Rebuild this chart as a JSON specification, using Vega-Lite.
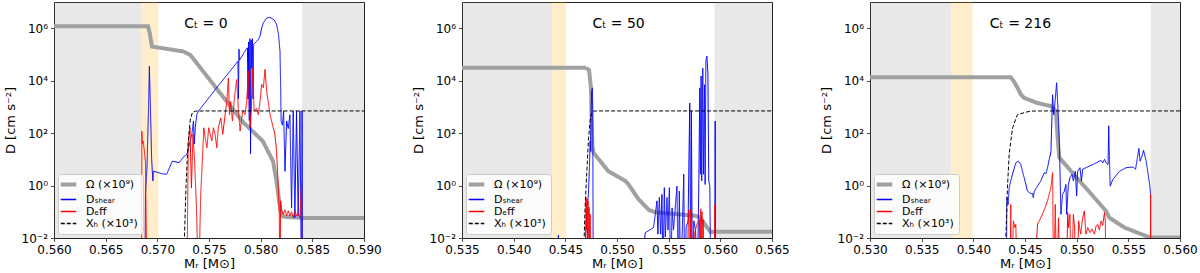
{
"$schema": "https://vega.github.io/schema/vega-lite/v6.json",
"padding": {"left": 3, "top": 1, "right": 0, "bottom": 0},
"spacing": 98,
"bounds": "flush",
"config": {
  "font": "DejaVu Sans",
  "view": {"stroke": "#222222", "strokeWidth": 1},
  "axis": {"grid": false, "domain": false, "tickColor": "#222222", "tickSize": 3.5, "tickWidth": 0.8, "labelFontSize": 12, "labelColor": "black", "titleFontSize": 13, "titleFontWeight": "normal", "titleColor": "black", "labelPadding": 3, "labelFlush": false, "labelOverlap": false},
  "legend": {"orient": "bottom-left", "offset": 4, "fillColor": "rgba(255,255,255,0.8)", "strokeColor": "#cccccc", "cornerRadius": 3, "padding": 5, "symbolType": "stroke", "symbolSize": 240, "symbolStrokeWidth": 1.5, "labelFontSize": 11, "rowPadding": 0, "labelOffset": 12, "labelColor": "black"},
  "line": {"clip": true},
  "text": {"font": "DejaVu Sans"}
},
"datasets": {
"p1": [
{"M":0.5600,"D":1.2e6,"s":"omega"},{"M":0.5691,"D":1.2e6,"s":"omega"},{"M":0.56925,"D":7e5,"s":"omega"},{"M":0.56948,"D":2.0e5,"s":"omega"},{"M":0.5725,"D":1.3e5,"s":"omega"},{"M":0.5732,"D":9.5e4,"s":"omega"},{"M":0.5757,"D":5.2e3,"s":"omega"},{"M":0.5783,"D":260,"s":"omega"},{"M":0.5802,"D":50,"s":"omega"},{"M":0.5812,"D":8.5,"s":"omega"},{"M":0.58153,"D":1.5,"s":"omega"},{"M":0.58179,"D":0.26,"s":"omega"},{"M":0.58195,"D":0.1,"s":"omega"},{"M":0.5822,"D":0.065,"s":"omega"},{"M":0.5840,"D":0.058,"s":"omega"},{"M":0.5900,"D":0.058,"s":"omega"},
{"M":0.56880,"D":1e-4,"s":"shear"},{"M":0.56885,"D":0.5,"s":"shear"},{"M":0.5690,"D":5,"s":"shear"},{"M":0.56915,"D":1000,"s":"shear"},{"M":0.56923,"D":3.5e4,"s":"shear"},{"M":0.5693,"D":3000,"s":"shear"},{"M":0.56945,"D":10,"s":"shear"},{"M":0.56957,"D":1.5,"s":"shear"},{"M":0.56962,"D":3.5,"s":"shear"},{"M":0.5700,"D":3.2,"s":"shear"},{"M":0.5705,"D":2.8,"s":"shear"},{"M":0.5709,"D":2.7,"s":"shear"},{"M":0.5712,"D":5,"s":"shear"},{"M":0.57145,"D":8.5,"s":"shear"},{"M":0.5718,"D":8,"s":"shear"},{"M":0.5721,"D":7.4,"s":"shear"},{"M":0.5725,"D":12,"s":"shear"},{"M":0.57286,"D":15.5,"s":"shear"},{"M":0.57302,"D":27,"s":"shear"},{"M":0.57318,"D":50,"s":"shear"},{"M":0.57334,"D":90,"s":"shear"},{"M":0.5735,"D":290,"s":"shear"},{"M":0.57357,"D":38,"s":"shear"},{"M":0.57367,"D":160,"s":"shear"},{"M":0.57382,"D":510,"s":"shear"},{"M":0.57399,"D":700,"s":"shear"},{"M":0.5760,"D":7200,"s":"shear"},{"M":0.5778,"D":5.5e4,"s":"shear"},{"M":0.57785,"D":2000,"s":"shear"},{"M":0.5779,"D":1.6e5,"s":"shear"},{"M":0.57795,"D":6e4,"s":"shear"},{"M":0.5786,"D":1.6e5,"s":"shear"},{"M":0.57872,"D":1.8e5,"s":"shear"},{"M":0.57878,"D":2000,"s":"shear"},{"M":0.57884,"D":3e5,"s":"shear"},{"M":0.5789,"D":300,"s":"shear"},{"M":0.57896,"D":4e5,"s":"shear"},{"M":0.57902,"D":16,"s":"shear"},{"M":0.57908,"D":3.5e5,"s":"shear"},{"M":0.57914,"D":3e4,"s":"shear"},{"M":0.5792,"D":4e5,"s":"shear"},{"M":0.57926,"D":2000,"s":"shear"},{"M":0.57932,"D":2.4e5,"s":"shear"},{"M":0.57977,"D":3.7e5,"s":"shear"},{"M":0.57994,"D":5e5,"s":"shear"},{"M":0.58009,"D":1e6,"s":"shear"},{"M":0.58026,"D":1.6e6,"s":"shear"},{"M":0.58058,"D":2.45e6,"s":"shear"},{"M":0.5809,"D":2.6e6,"s":"shear"},{"M":0.58129,"D":2.1e6,"s":"shear"},{"M":0.58154,"D":1.4e6,"s":"shear"},{"M":0.58173,"D":5.8e5,"s":"shear"},{"M":0.58187,"D":1.3e5,"s":"shear"},{"M":0.58193,"D":7000,"s":"shear"},{"M":0.58198,"D":290,"s":"shear"},{"M":0.5821,"D":200,"s":"shear"},{"M":0.58222,"D":700,"s":"shear"},{"M":0.58235,"D":3.5,"s":"shear"},{"M":0.58251,"D":290,"s":"shear"},{"M":0.58267,"D":150,"s":"shear"},{"M":0.58283,"D":500,"s":"shear"},{"M":0.58299,"D":0.14,"s":"shear"},{"M":0.58315,"D":700,"s":"shear"},{"M":0.58331,"D":0.06,"s":"shear"},{"M":0.58347,"D":700,"s":"shear"},{"M":0.58363,"D":0.07,"s":"shear"},{"M":0.5838,"D":700,"s":"shear"},{"M":0.58395,"D":1e-4,"s":"shear"},{"M":0.58401,"D":700,"s":"shear"},{"M":0.58405,"D":1e-4,"s":"shear"},
{"M":0.56848,"D":1e-4,"s":"eff"},{"M":0.5685,"D":120,"s":"eff"},{"M":0.56855,"D":40,"s":"eff"},{"M":0.56862,"D":50,"s":"eff"},{"M":0.5687,"D":30,"s":"eff"},{"M":0.56885,"D":8,"s":"eff"},{"M":0.5690,"D":1e-4,"s":"eff"},{"M":0.57285,"D":1e-4,"s":"eff"},{"M":0.573,"D":50,"s":"eff"},{"M":0.57316,"D":160,"s":"eff"},{"M":0.5733,"D":0.8,"s":"eff"},{"M":0.57345,"D":90,"s":"eff"},{"M":0.5736,"D":10,"s":"eff"},{"M":0.5738,"D":0.1,"s":"eff"},{"M":0.57399,"D":1e-4,"s":"eff"},{"M":0.5742,"D":0.5,"s":"eff"},{"M":0.5744,"D":20,"s":"eff"},{"M":0.5745,"D":160,"s":"eff"},{"M":0.57463,"D":66,"s":"eff"},{"M":0.5748,"D":28,"s":"eff"},{"M":0.57497,"D":160,"s":"eff"},{"M":0.57527,"D":50,"s":"eff"},{"M":0.57543,"D":160,"s":"eff"},{"M":0.57559,"D":90,"s":"eff"},{"M":0.57575,"D":28,"s":"eff"},{"M":0.5759,"D":160,"s":"eff"},{"M":0.57614,"D":380,"s":"eff"},{"M":0.57633,"D":90,"s":"eff"},{"M":0.57656,"D":510,"s":"eff"},{"M":0.57672,"D":1600,"s":"eff"},{"M":0.57688,"D":1.26e4,"s":"eff"},{"M":0.57698,"D":510,"s":"eff"},{"M":0.5771,"D":1600,"s":"eff"},{"M":0.57727,"D":290,"s":"eff"},{"M":0.57746,"D":2200,"s":"eff"},{"M":0.57768,"D":1.1e4,"s":"eff"},{"M":0.57785,"D":700,"s":"eff"},{"M":0.57801,"D":120,"s":"eff"},{"M":0.57826,"D":700,"s":"eff"},{"M":0.57849,"D":510,"s":"eff"},{"M":0.57865,"D":1600,"s":"eff"},{"M":0.57881,"D":2.3e4,"s":"eff"},{"M":0.57891,"D":700,"s":"eff"},{"M":0.57897,"D":160,"s":"eff"},{"M":0.5791,"D":900,"s":"eff"},{"M":0.57923,"D":3.1e4,"s":"eff"},{"M":0.57936,"D":700,"s":"eff"},{"M":0.57961,"D":900,"s":"eff"},{"M":0.57977,"D":510,"s":"eff"},{"M":0.57994,"D":1600,"s":"eff"},{"M":0.58009,"D":7200,"s":"eff"},{"M":0.58026,"D":5400,"s":"eff"},{"M":0.58042,"D":2.7e4,"s":"eff"},{"M":0.58058,"D":4000,"s":"eff"},{"M":0.5809,"D":520,"s":"eff"},{"M":0.58122,"D":160,"s":"eff"},{"M":0.58138,"D":90,"s":"eff"},{"M":0.58154,"D":20,"s":"eff"},{"M":0.58171,"D":0.83,"s":"eff"},{"M":0.5818,"D":0.083,"s":"eff"},{"M":0.58187,"D":1e-4,"s":"eff"},{"M":0.58193,"D":0.26,"s":"eff"},{"M":0.58202,"D":0.11,"s":"eff"},{"M":0.58219,"D":0.08,"s":"eff"},{"M":0.58235,"D":0.12,"s":"eff"},{"M":0.58251,"D":0.07,"s":"eff"},{"M":0.58267,"D":0.11,"s":"eff"},{"M":0.58283,"D":0.07,"s":"eff"},{"M":0.58299,"D":0.1,"s":"eff"},{"M":0.58315,"D":0.06,"s":"eff"},{"M":0.58331,"D":0.11,"s":"eff"},{"M":0.58347,"D":0.07,"s":"eff"},{"M":0.58363,"D":0.09,"s":"eff"},{"M":0.5838,"D":0.06,"s":"eff"},{"M":0.58395,"D":1.26,"s":"eff"},{"M":0.58398,"D":1e-4,"s":"eff"},
{"M":0.5725,"D":1e-4,"s":"xh"},{"M":0.57262,"D":0.01,"s":"xh"},{"M":0.57278,"D":1,"s":"xh"},{"M":0.57293,"D":20,"s":"xh"},{"M":0.57308,"D":120,"s":"xh"},{"M":0.5732,"D":350,"s":"xh"},{"M":0.5734,"D":620,"s":"xh"},{"M":0.5737,"D":690,"s":"xh"},{"M":0.5745,"D":700,"s":"xh"},{"M":0.59,"D":700,"s":"xh"}
],
"p2": [
{"M":0.535,"D":3.1e4,"s":"omega"},{"M":0.547,"D":3.1e4,"s":"omega"},{"M":0.5473,"D":2.5e4,"s":"omega"},{"M":0.54748,"D":5000,"s":"omega"},{"M":0.54756,"D":200,"s":"omega"},{"M":0.54762,"D":30,"s":"omega"},{"M":0.54772,"D":18,"s":"omega"},{"M":0.54917,"D":3.5,"s":"omega"},{"M":0.5508,"D":1.5,"s":"omega"},{"M":0.55112,"D":1.1,"s":"omega"},{"M":0.55209,"D":0.3,"s":"omega"},{"M":0.55306,"D":0.12,"s":"omega"},{"M":0.55371,"D":0.095,"s":"omega"},{"M":0.55597,"D":0.08,"s":"omega"},{"M":0.5576,"D":0.07,"s":"omega"},{"M":0.55808,"D":0.059,"s":"omega"},{"M":0.55872,"D":0.025,"s":"omega"},{"M":0.55905,"D":0.017,"s":"omega"},{"M":0.5595,"D":0.0175,"s":"omega"},{"M":0.565,"D":0.0175,"s":"omega"},
{"M":0.5443,"D":1e-4,"s":"shear"},{"M":0.54433,"D":0.013,"s":"shear"},{"M":0.54436,"D":1e-4,"s":"shear"},{"M":0.54685,"D":1e-4,"s":"shear"},{"M":0.54691,"D":0.005,"s":"shear"},{"M":0.54707,"D":0.08,"s":"shear"},{"M":0.54723,"D":0.46,"s":"shear"},{"M":0.54733,"D":4.8,"s":"shear"},{"M":0.5474,"D":50,"s":"shear"},{"M":0.54745,"D":20,"s":"shear"},{"M":0.5475,"D":900,"s":"shear"},{"M":0.54755,"D":4000,"s":"shear"},{"M":0.54762,"D":5300,"s":"shear"},{"M":0.54766,"D":100,"s":"shear"},{"M":0.5477,"D":1e-4,"s":"shear"},{"M":0.55209,"D":1e-4,"s":"shear"},{"M":0.55274,"D":0.016,"s":"shear"},{"M":0.55354,"D":0.025,"s":"shear"},{"M":0.55387,"D":0.26,"s":"shear"},{"M":0.55396,"D":0.014,"s":"shear"},{"M":0.5541,"D":0.35,"s":"shear"},{"M":0.55422,"D":0.014,"s":"shear"},{"M":0.55435,"D":0.46,"s":"shear"},{"M":0.55445,"D":1e-4,"s":"shear"},{"M":0.55458,"D":0.83,"s":"shear"},{"M":0.55468,"D":0.011,"s":"shear"},{"M":0.55484,"D":0.35,"s":"shear"},{"M":0.55494,"D":0.02,"s":"shear"},{"M":0.55507,"D":0.83,"s":"shear"},{"M":0.5552,"D":1e-4,"s":"shear"},{"M":0.55533,"D":0.14,"s":"shear"},{"M":0.55547,"D":0.02,"s":"shear"},{"M":0.5558,"D":0.95,"s":"shear"},{"M":0.55594,"D":1e-4,"s":"shear"},{"M":0.55603,"D":0.62,"s":"shear"},{"M":0.55617,"D":1e-4,"s":"shear"},{"M":0.55646,"D":2.7,"s":"shear"},{"M":0.55655,"D":1e-4,"s":"shear"},{"M":0.55669,"D":0.025,"s":"shear"},{"M":0.55688,"D":0.045,"s":"shear"},{"M":0.55704,"D":1400,"s":"shear"},{"M":0.55714,"D":1e-4,"s":"shear"},{"M":0.5572,"D":700,"s":"shear"},{"M":0.5573,"D":1e-4,"s":"shear"},{"M":0.55743,"D":0.045,"s":"shear"},{"M":0.5576,"D":0.02,"s":"shear"},{"M":0.55776,"D":1e-4,"s":"shear"},{"M":0.55791,"D":0.62,"s":"shear"},{"M":0.55801,"D":5300,"s":"shear"},{"M":0.55807,"D":2.7,"s":"shear"},{"M":0.55814,"D":1.5e4,"s":"shear"},{"M":0.5582,"D":1.5,"s":"shear"},{"M":0.5583,"D":3e4,"s":"shear"},{"M":0.55837,"D":2.7,"s":"shear"},{"M":0.55847,"D":7000,"s":"shear"},{"M":0.55853,"D":1.1,"s":"shear"},{"M":0.5586,"D":5.7e4,"s":"shear"},{"M":0.5587,"D":8.6e4,"s":"shear"},{"M":0.5588,"D":1.7e4,"s":"shear"},{"M":0.55888,"D":1.5,"s":"shear"},{"M":0.55898,"D":1,"s":"shear"},{"M":0.55908,"D":1e-4,"s":"shear"},{"M":0.55947,"D":1e-4,"s":"shear"},{"M":0.5595,"D":290,"s":"shear"},{"M":0.55953,"D":1e-4,"s":"shear"},
{"M":0.54695,"D":1e-4,"s":"eff"},{"M":0.547,"D":0.35,"s":"eff"},{"M":0.54705,"D":0.02,"s":"eff"},{"M":0.5471,"D":0.3,"s":"eff"},{"M":0.54715,"D":0.01,"s":"eff"},{"M":0.5472,"D":0.25,"s":"eff"},{"M":0.54725,"D":1e-4,"s":"eff"},{"M":0.5473,"D":0.15,"s":"eff"},{"M":0.54735,"D":1e-4,"s":"eff"},{"M":0.5474,"D":0.08,"s":"eff"},{"M":0.54745,"D":1e-4,"s":"eff"},{"M":0.5568,"D":1e-4,"s":"eff"},{"M":0.55688,"D":0.025,"s":"eff"},{"M":0.55697,"D":0.12,"s":"eff"},{"M":0.55704,"D":1e-4,"s":"eff"},{"M":0.55714,"D":0.12,"s":"eff"},{"M":0.5572,"D":1e-4,"s":"eff"},{"M":0.55745,"D":1e-4,"s":"eff"},{"M":0.55752,"D":0.016,"s":"eff"},{"M":0.55776,"D":0.035,"s":"eff"},{"M":0.55798,"D":0.05,"s":"eff"},{"M":0.55804,"D":1e-4,"s":"eff"},{"M":0.55811,"D":0.13,"s":"eff"},{"M":0.55816,"D":1e-4,"s":"eff"},{"M":0.55822,"D":0.1,"s":"eff"},{"M":0.55828,"D":1e-4,"s":"eff"},{"M":0.55834,"D":0.05,"s":"eff"},{"M":0.5584,"D":1e-4,"s":"eff"},{"M":0.55944,"D":1e-4,"s":"eff"},{"M":0.55947,"D":0.19,"s":"eff"},{"M":0.5595,"D":1e-4,"s":"eff"},
{"M":0.54675,"D":1e-4,"s":"xh"},{"M":0.54682,"D":0.01,"s":"xh"},{"M":0.54691,"D":0.14,"s":"xh"},{"M":0.54707,"D":2.8,"s":"xh"},{"M":0.54723,"D":50,"s":"xh"},{"M":0.5474,"D":300,"s":"xh"},{"M":0.5475,"D":520,"s":"xh"},{"M":0.54772,"D":690,"s":"xh"},{"M":0.548,"D":700,"s":"xh"},{"M":0.565,"D":700,"s":"xh"}
],
"p3": [
{"M":0.53,"D":1.35e4,"s":"omega"},{"M":0.54362,"D":1.35e4,"s":"omega"},{"M":0.54395,"D":9000,"s":"omega"},{"M":0.54427,"D":5400,"s":"omega"},{"M":0.5446,"D":3000,"s":"omega"},{"M":0.54492,"D":2200,"s":"omega"},{"M":0.54621,"D":1400,"s":"omega"},{"M":0.5475,"D":1070,"s":"omega"},{"M":0.54799,"D":700,"s":"omega"},{"M":0.54816,"D":66,"s":"omega"},{"M":0.54832,"D":11.5,"s":"omega"},{"M":0.55087,"D":0.83,"s":"omega"},{"M":0.55284,"D":0.107,"s":"omega"},{"M":0.55317,"D":0.059,"s":"omega"},{"M":0.55463,"D":0.025,"s":"omega"},{"M":0.55706,"D":0.0105,"s":"omega"},{"M":0.56,"D":0.0105,"s":"omega"},
{"M":0.5432,"D":1e-4,"s":"shear"},{"M":0.54324,"D":0.35,"s":"shear"},{"M":0.54337,"D":0.19,"s":"shear"},{"M":0.54347,"D":0.83,"s":"shear"},{"M":0.54362,"D":1.5,"s":"shear"},{"M":0.54379,"D":2.7,"s":"shear"},{"M":0.54411,"D":7.4,"s":"shear"},{"M":0.54437,"D":8.5,"s":"shear"},{"M":0.54459,"D":6.3,"s":"shear"},{"M":0.54492,"D":2,"s":"shear"},{"M":0.54524,"D":0.62,"s":"shear"},{"M":0.54557,"D":0.49,"s":"shear"},{"M":0.54573,"D":0.5,"s":"shear"},{"M":0.5458,"D":0.35,"s":"shear"},{"M":0.5459,"D":0.6,"s":"shear"},{"M":0.54621,"D":0.95,"s":"shear"},{"M":0.54653,"D":1.5,"s":"shear"},{"M":0.54687,"D":3.1,"s":"shear"},{"M":0.54702,"D":2.8,"s":"shear"},{"M":0.54718,"D":4.8,"s":"shear"},{"M":0.54735,"D":10,"s":"shear"},{"M":0.54751,"D":20,"s":"shear"},{"M":0.54767,"D":2900,"s":"shear"},{"M":0.54777,"D":500,"s":"shear"},{"M":0.54783,"D":700,"s":"shear"},{"M":0.54806,"D":8300,"s":"shear"},{"M":0.54825,"D":300,"s":"shear"},{"M":0.54832,"D":50,"s":"shear"},{"M":0.54848,"D":0.08,"s":"shear"},{"M":0.54864,"D":0.46,"s":"shear"},{"M":0.5488,"D":0.6,"s":"shear"},{"M":0.54896,"D":1.1,"s":"shear"},{"M":0.54903,"D":0.08,"s":"shear"},{"M":0.5492,"D":1.1,"s":"shear"},{"M":0.54935,"D":2,"s":"shear"},{"M":0.54955,"D":2.7,"s":"shear"},{"M":0.54968,"D":1.5,"s":"shear"},{"M":0.54987,"D":3.5,"s":"shear"},{"M":0.55,"D":0.4,"s":"shear"},{"M":0.5501,"D":3.5,"s":"shear"},{"M":0.55032,"D":4.8,"s":"shear"},{"M":0.55046,"D":1.5,"s":"shear"},{"M":0.55058,"D":4.2,"s":"shear"},{"M":0.55155,"D":6.3,"s":"shear"},{"M":0.55236,"D":9.1,"s":"shear"},{"M":0.55252,"D":7.4,"s":"shear"},{"M":0.55269,"D":10,"s":"shear"},{"M":0.55285,"D":7.4,"s":"shear"},{"M":0.55304,"D":6.3,"s":"shear"},{"M":0.5531,"D":190,"s":"shear"},{"M":0.55324,"D":0.95,"s":"shear"},{"M":0.5535,"D":1.7,"s":"shear"},{"M":0.55415,"D":3.5,"s":"shear"},{"M":0.55479,"D":4.8,"s":"shear"},{"M":0.55544,"D":5.1,"s":"shear"},{"M":0.5557,"D":4.2,"s":"shear"},{"M":0.55602,"D":26,"s":"shear"},{"M":0.55614,"D":8.5,"s":"shear"},{"M":0.55628,"D":11.5,"s":"shear"},{"M":0.55647,"D":22,"s":"shear"},{"M":0.55673,"D":8.5,"s":"shear"},{"M":0.55706,"D":1.1,"s":"shear"},{"M":0.55716,"D":0.46,"s":"shear"},
{"M":0.54356,"D":1e-4,"s":"eff"},{"M":0.54362,"D":0.19,"s":"eff"},{"M":0.54369,"D":1e-4,"s":"eff"},{"M":0.54388,"D":0.045,"s":"eff"},{"M":0.54401,"D":0.025,"s":"eff"},{"M":0.54411,"D":0.033,"s":"eff"},{"M":0.54427,"D":1e-4,"s":"eff"},{"M":0.54589,"D":1e-4,"s":"eff"},{"M":0.54621,"D":0.034,"s":"eff"},{"M":0.54653,"D":0.059,"s":"eff"},{"M":0.54687,"D":0.12,"s":"eff"},{"M":0.54718,"D":0.26,"s":"eff"},{"M":0.54751,"D":0.83,"s":"eff"},{"M":0.54767,"D":3.1,"s":"eff"},{"M":0.54777,"D":1e-4,"s":"eff"},{"M":0.54793,"D":0.19,"s":"eff"},{"M":0.54806,"D":1e-4,"s":"eff"},{"M":0.54825,"D":0.059,"s":"eff"},{"M":0.54838,"D":1e-4,"s":"eff"},{"M":0.549,"D":1e-4,"s":"eff"},{"M":0.54913,"D":0.094,"s":"eff"},{"M":0.54922,"D":0.025,"s":"eff"},{"M":0.54935,"D":0.08,"s":"eff"},{"M":0.54948,"D":1e-4,"s":"eff"},{"M":0.54968,"D":0.08,"s":"eff"},{"M":0.5498,"D":0.025,"s":"eff"},{"M":0.55,"D":1e-4,"s":"eff"},{"M":0.55019,"D":0.045,"s":"eff"},{"M":0.55039,"D":0.014,"s":"eff"},{"M":0.55058,"D":0.059,"s":"eff"},{"M":0.55074,"D":0.108,"s":"eff"},{"M":0.5509,"D":0.014,"s":"eff"},{"M":0.55107,"D":0.025,"s":"eff"},{"M":0.55129,"D":0.016,"s":"eff"},{"M":0.55149,"D":0.022,"s":"eff"},{"M":0.55172,"D":0.014,"s":"eff"},{"M":0.55188,"D":0.029,"s":"eff"},{"M":0.55204,"D":0.033,"s":"eff"},{"M":0.5522,"D":0.02,"s":"eff"},{"M":0.55236,"D":0.045,"s":"eff"},{"M":0.55252,"D":0.03,"s":"eff"},{"M":0.55269,"D":0.094,"s":"eff"},{"M":0.55277,"D":0.045,"s":"eff"},{"M":0.55285,"D":1e-4,"s":"eff"},{"M":0.55712,"D":1e-4,"s":"eff"},{"M":0.55716,"D":0.46,"s":"eff"},{"M":0.5572,"D":1e-4,"s":"eff"},
{"M":0.54305,"D":1e-4,"s":"xh"},{"M":0.54315,"D":0.01,"s":"xh"},{"M":0.5433,"D":0.8,"s":"xh"},{"M":0.54347,"D":16,"s":"xh"},{"M":0.5438,"D":160,"s":"xh"},{"M":0.54427,"D":510,"s":"xh"},{"M":0.54492,"D":600,"s":"xh"},{"M":0.5455,"D":690,"s":"xh"},{"M":0.5465,"D":700,"s":"xh"},{"M":0.56,"D":700,"s":"xh"}
]
},
"hconcat": [
{
"width": 310, "height": 236,
"layer": [
{"data": {"values": [{"a": 0.560, "b": 0.5684}, {"a": 0.5840, "b": 0.590}]}, "mark": {"type": "rect", "color": "#808080", "opacity": 0.18}, "encoding": {"x": {"field": "a", "type": "quantitative", "scale": {"domain": [0.56, 0.59], "nice": false, "zero": false}}, "x2": {"field": "b"}}},
{"data": {"values": [{"a": 0.5684, "b": 0.5701}]}, "mark": {"type": "rect", "color": "#ffa500", "opacity": 0.2}, "encoding": {"x": {"field": "a", "type": "quantitative"}, "x2": {"field": "b"}}},
{"data": {"name": "p1"}, "transform": [{"filter": "datum.s == 'omega'"}], "mark": {"type": "line", "strokeWidth": 4, "clip": true},
 "encoding": {"x": {"field": "M", "type": "quantitative"}, "y": {"field": "D", "type": "quantitative", "scale": {"type": "log", "domain": [0.01, 1e7], "nice": false}},
  "color": {"field": "s", "type": "nominal", "scale": {"domain": ["omega", "shear", "eff", "xh"], "range": ["#a0a0a0", "#0000ff", "#ff0000", "#000000"]}, "legend": {"title": null, "labelExpr": "datum.label == 'omega' ? 'Ω (×10⁹)' : datum.label == 'shear' ? 'Dₛₕₑₐᵣ' : datum.label == 'eff' ? 'Dₑff' : 'Xₕ (×10³)'", "encode": {"symbols": {"update": {"strokeWidth": {"signal": "datum.value == 'omega' ? 4 : 1.5"}}}}}},
  "strokeDash": {"field": "s", "type": "nominal", "scale": {"domain": ["omega", "shear", "eff", "xh"], "range": [[1, 0], [1, 0], [1, 0], [4, 2]]}, "legend": {"title": null, "labelExpr": "datum.label == 'omega' ? 'Ω (×10⁹)' : datum.label == 'shear' ? 'Dₛₕₑₐᵣ' : datum.label == 'eff' ? 'Dₑff' : 'Xₕ (×10³)'", "encode": {"symbols": {"update": {"strokeWidth": {"signal": "datum.value == 'omega' ? 4 : 1.5"}}}}}}}},
{"data": {"name": "p1"}, "transform": [{"filter": "datum.s != 'omega'"}], "mark": {"type": "line", "strokeWidth": 1, "clip": true},
 "encoding": {"x": {"field": "M", "type": "quantitative", "scale": {"domain": [0.56, 0.59], "nice": false, "zero": false}, "axis": {"values": [0.56, 0.565, 0.57, 0.575, 0.58, 0.585, 0.59], "format": ".3f", "title": "Mᵣ [M⊙]", "titlePadding": 2}},
  "y": {"field": "D", "type": "quantitative", "axis": {"values": [0.01, 1, 100, 10000, 1000000], "labelExpr": "datum.value < 0.05 ? '10⁻²' : datum.value < 5 ? '10⁰' : datum.value < 500 ? '10²' : datum.value < 50000 ? '10⁴' : '10⁶'", "title": "D [cm s⁻²]", "titlePadding": 4}},
  "color": {"field": "s", "type": "nominal"}, "strokeDash": {"field": "s", "type": "nominal"}}},
{"data": {"values": [{"M": 0.5747, "D": 1.4e6, "t": "Cₜ = 0"}]}, "mark": {"type": "text", "fontSize": 14, "align": "center", "baseline": "middle"}, "encoding": {"x": {"field": "M", "type": "quantitative"}, "y": {"field": "D", "type": "quantitative"}, "text": {"field": "t"}}}
]
},
{
"width": 310, "height": 236,
"layer": [
{"data": {"values": [{"a": 0.535, "b": 0.54371}, {"a": 0.55944, "b": 0.565}]}, "mark": {"type": "rect", "color": "#808080", "opacity": 0.18}, "encoding": {"x": {"field": "a", "type": "quantitative", "scale": {"domain": [0.535, 0.565], "nice": false, "zero": false}}, "x2": {"field": "b"}}},
{"data": {"values": [{"a": 0.54371, "b": 0.54507}]}, "mark": {"type": "rect", "color": "#ffa500", "opacity": 0.2}, "encoding": {"x": {"field": "a", "type": "quantitative"}, "x2": {"field": "b"}}},
{"data": {"name": "p2"}, "transform": [{"filter": "datum.s == 'omega'"}], "mark": {"type": "line", "strokeWidth": 4, "clip": true},
 "encoding": {"x": {"field": "M", "type": "quantitative"}, "y": {"field": "D", "type": "quantitative", "scale": {"type": "log", "domain": [0.01, 1e7], "nice": false}},
  "color": {"field": "s", "type": "nominal", "scale": {"domain": ["omega", "shear", "eff", "xh"], "range": ["#a0a0a0", "#0000ff", "#ff0000", "#000000"]}, "legend": {"title": null, "labelExpr": "datum.label == 'omega' ? 'Ω (×10⁹)' : datum.label == 'shear' ? 'Dₛₕₑₐᵣ' : datum.label == 'eff' ? 'Dₑff' : 'Xₕ (×10³)'", "encode": {"symbols": {"update": {"strokeWidth": {"signal": "datum.value == 'omega' ? 4 : 1.5"}}}}}},
  "strokeDash": {"field": "s", "type": "nominal", "scale": {"domain": ["omega", "shear", "eff", "xh"], "range": [[1, 0], [1, 0], [1, 0], [4, 2]]}, "legend": {"title": null, "labelExpr": "datum.label == 'omega' ? 'Ω (×10⁹)' : datum.label == 'shear' ? 'Dₛₕₑₐᵣ' : datum.label == 'eff' ? 'Dₑff' : 'Xₕ (×10³)'", "encode": {"symbols": {"update": {"strokeWidth": {"signal": "datum.value == 'omega' ? 4 : 1.5"}}}}}}}},
{"data": {"name": "p2"}, "transform": [{"filter": "datum.s != 'omega'"}], "mark": {"type": "line", "strokeWidth": 1, "clip": true},
 "encoding": {"x": {"field": "M", "type": "quantitative", "scale": {"domain": [0.535, 0.565], "nice": false, "zero": false}, "axis": {"values": [0.535, 0.54, 0.545, 0.55, 0.555, 0.56, 0.565], "format": ".3f", "title": "Mᵣ [M⊙]", "titlePadding": 2}},
  "y": {"field": "D", "type": "quantitative", "axis": {"values": [0.01, 1, 100, 10000, 1000000], "labelExpr": "datum.value < 0.05 ? '10⁻²' : datum.value < 5 ? '10⁰' : datum.value < 500 ? '10²' : datum.value < 50000 ? '10⁴' : '10⁶'", "title": "D [cm s⁻²]", "titlePadding": 4}},
  "color": {"field": "s", "type": "nominal"}, "strokeDash": {"field": "s", "type": "nominal"}}},
{"data": {"values": [{"M": 0.55015, "D": 1.4e6, "t": "Cₜ = 50"}]}, "mark": {"type": "text", "fontSize": 14, "align": "center", "baseline": "middle"}, "encoding": {"x": {"field": "M", "type": "quantitative"}, "y": {"field": "D", "type": "quantitative"}, "text": {"field": "t"}}}
]
},
{
"width": 310, "height": 236,
"layer": [
{"data": {"values": [{"a": 0.530, "b": 0.53783}, {"a": 0.55718, "b": 0.560}]}, "mark": {"type": "rect", "color": "#808080", "opacity": 0.18}, "encoding": {"x": {"field": "a", "type": "quantitative", "scale": {"domain": [0.53, 0.56], "nice": false, "zero": false}}, "x2": {"field": "b"}}},
{"data": {"values": [{"a": 0.53783, "b": 0.53993}]}, "mark": {"type": "rect", "color": "#ffa500", "opacity": 0.2}, "encoding": {"x": {"field": "a", "type": "quantitative"}, "x2": {"field": "b"}}},
{"data": {"name": "p3"}, "transform": [{"filter": "datum.s == 'omega'"}], "mark": {"type": "line", "strokeWidth": 4, "clip": true},
 "encoding": {"x": {"field": "M", "type": "quantitative"}, "y": {"field": "D", "type": "quantitative", "scale": {"type": "log", "domain": [0.01, 1e7], "nice": false}},
  "color": {"field": "s", "type": "nominal", "scale": {"domain": ["omega", "shear", "eff", "xh"], "range": ["#a0a0a0", "#0000ff", "#ff0000", "#000000"]}, "legend": {"title": null, "labelExpr": "datum.label == 'omega' ? 'Ω (×10⁹)' : datum.label == 'shear' ? 'Dₛₕₑₐᵣ' : datum.label == 'eff' ? 'Dₑff' : 'Xₕ (×10³)'", "encode": {"symbols": {"update": {"strokeWidth": {"signal": "datum.value == 'omega' ? 4 : 1.5"}}}}}},
  "strokeDash": {"field": "s", "type": "nominal", "scale": {"domain": ["omega", "shear", "eff", "xh"], "range": [[1, 0], [1, 0], [1, 0], [4, 2]]}, "legend": {"title": null, "labelExpr": "datum.label == 'omega' ? 'Ω (×10⁹)' : datum.label == 'shear' ? 'Dₛₕₑₐᵣ' : datum.label == 'eff' ? 'Dₑff' : 'Xₕ (×10³)'", "encode": {"symbols": {"update": {"strokeWidth": {"signal": "datum.value == 'omega' ? 4 : 1.5"}}}}}}}},
{"data": {"name": "p3"}, "transform": [{"filter": "datum.s != 'omega'"}], "mark": {"type": "line", "strokeWidth": 1, "clip": true},
 "encoding": {"x": {"field": "M", "type": "quantitative", "scale": {"domain": [0.53, 0.56], "nice": false, "zero": false}, "axis": {"values": [0.53, 0.535, 0.54, 0.545, 0.55, 0.555, 0.56], "format": ".3f", "title": "Mᵣ [M⊙]", "titlePadding": 2}},
  "y": {"field": "D", "type": "quantitative", "axis": {"values": [0.01, 1, 100, 10000, 1000000], "labelExpr": "datum.value < 0.05 ? '10⁻²' : datum.value < 5 ? '10⁰' : datum.value < 500 ? '10²' : datum.value < 50000 ? '10⁴' : '10⁶'", "title": "D [cm s⁻²]", "titlePadding": 4}},
  "color": {"field": "s", "type": "nominal"}, "strokeDash": {"field": "s", "type": "nominal"}}},
{"data": {"values": [{"M": 0.54456, "D": 1.4e6, "t": "Cₜ = 216"}]}, "mark": {"type": "text", "fontSize": 14, "align": "center", "baseline": "middle"}, "encoding": {"x": {"field": "M", "type": "quantitative"}, "y": {"field": "D", "type": "quantitative"}, "text": {"field": "t"}}}
]
}
],
"resolve": {"scale": {"x": "independent", "y": "independent", "color": "independent", "strokeDash": "independent"}, "legend": {"color": "independent", "strokeDash": "independent"}}
}
